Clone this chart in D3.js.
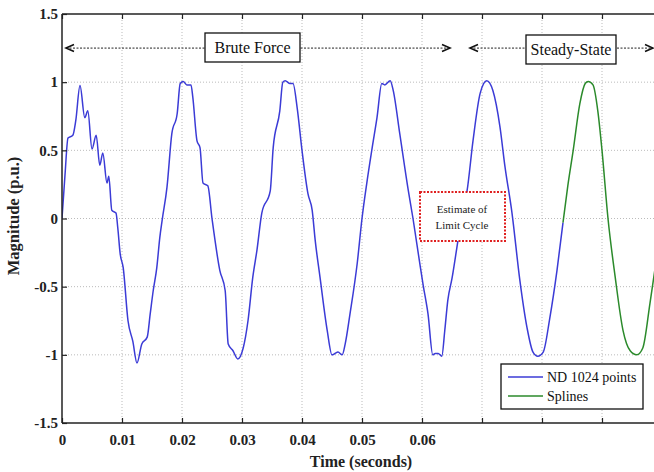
<!DOCTYPE html>
<html>
<head>
<meta charset="utf-8">
<script src="https://cdn.jsdelivr.net/npm/d3@7"></script>
<style>
  body { margin: 0; background: #fff; }
  svg text { font-family: "Liberation Serif", "Times New Roman", serif; }
</style>
</head>
<body>
<svg id="chart" width="654" height="472"></svg>
<script>
// values (time in seconds, magnitude in p.u.)
const bluePts = [
  [0, 0.0], [0.0005, 0.32], [0.001, 0.59], [0.0018, 0.61], [0.0023, 0.72], [0.003, 0.975],
  [0.0038, 0.74], [0.0043, 0.79], [0.005, 0.51], [0.0057, 0.61], [0.0063, 0.39], [0.0068, 0.48],
  [0.0075, 0.26], [0.0078, 0.31], [0.0083, 0.06], [0.009, 0.04], [0.0093, -0.07], [0.0097, -0.26],
  [0.0102, -0.36], [0.011, -0.75], [0.0118, -0.9], [0.0125, -1.06], [0.0133, -0.92], [0.0142, -0.87],
  [0.0147, -0.70], [0.0152, -0.53], [0.0158, -0.36], [0.0163, -0.14], [0.0167, -0.01], [0.0175, 0.23],
  [0.0183, 0.62], [0.0192, 0.77], [0.0197, 0.99], [0.0202, 1.005], [0.0208, 0.98], [0.0215, 0.98],
  [0.0218, 0.89], [0.0225, 0.57], [0.023, 0.52], [0.0235, 0.26], [0.0243, 0.24], [0.025, 0.0],
  [0.0263, -0.38], [0.0272, -0.53], [0.0277, -0.92], [0.0285, -0.97], [0.0293, -1.03], [0.0302, -0.95],
  [0.031, -0.75], [0.0318, -0.43], [0.0325, -0.23], [0.0333, 0.04], [0.0347, 0.2], [0.0352, 0.52],
  [0.0363, 0.79], [0.0368, 1.0], [0.0372, 1.01], [0.038, 0.99], [0.0385, 0.99], [0.0392, 0.81],
  [0.04, 0.5], [0.041, 0.18], [0.0417, 0.06], [0.0422, -0.16], [0.043, -0.43], [0.0442, -0.82],
  [0.045, -1.0], [0.0455, -0.99], [0.046, -0.98], [0.0467, -1.0], [0.0472, -0.92], [0.048, -0.70],
  [0.0492, -0.33], [0.05, 0.0], [0.0508, 0.26], [0.0517, 0.52], [0.0525, 0.74], [0.0533, 0.99],
  [0.0538, 0.98], [0.0547, 1.01], [0.0552, 0.94], [0.0563, 0.62], [0.0577, 0.21], [0.0585, 0.0],
  [0.0597, -0.35], [0.0602, -0.49], [0.061, -0.70], [0.0618, -1.0], [0.0622, -0.99], [0.0627, -0.99],
  [0.0633, -1.01], [0.0638, -0.82], [0.0643, -0.6], [0.065, -0.44], [0.066, -0.16], [0.0668, 0.06],
  [0.0675, 0.2], [0.0685, 0.57], [0.0697, 0.92], [0.0708, 1.01], [0.0718, 0.94], [0.073, 0.67],
  [0.0738, 0.39], [0.075, 0.04], [0.0763, -0.45], [0.0775, -0.8], [0.0785, -0.98], [0.0793, -1.01],
  [0.0802, -0.98], [0.0813, -0.73], [0.0825, -0.38], [0.0835, -0.03]
];
const greenPts = [
  [0.0835, -0.03], [0.0843, 0.24], [0.0852, 0.5], [0.0863, 0.84], [0.0872, 0.99], [0.0877, 1.005],
  [0.0885, 0.98], [0.0893, 0.79], [0.09, 0.5], [0.091, 0.0], [0.0922, -0.43], [0.0935, -0.82],
  [0.0947, -0.97], [0.0958, -1.0], [0.0968, -0.95], [0.098, -0.62], [0.099, -0.32]
];
const xTicks = [0, 0.01, 0.02, 0.03, 0.04, 0.05, 0.06, 0.07, 0.08, 0.09];
const xLabels = ["0", "0.01", "0.02", "0.03", "0.04", "0.05", "0.06", "", "", ""];
const yTicks = [-1.5, -1, -0.5, 0, 0.5, 1, 1.5];
const yLabels = ["-1.5", "-1", "-0.5", "0", "0.5", "1", "1.5"];
const seriesNames = ["ND 1024 points", "Splines"];
const seriesColors = ["#3b3bd6", "#2b8a2b"];

const svg = d3.select("#chart");
const pL = 62, pT = 14, pB = 423, pR = 654;

const x = d3.scaleLinear().domain([0, 0.1]).range([pL, 662]);
const y = d3.scaleLinear().domain([-1.5, 1.5]).range([pB, pT]);

svg.append("defs").append("clipPath").attr("id", "plot")
  .append("rect").attr("x", pL).attr("y", pT).attr("width", pR - pL).attr("height", pB - pT);

// grid
const grid = svg.append("g").attr("stroke", "#aaa").attr("stroke-width", 0.8).attr("stroke-dasharray", "1,2");
grid.selectAll(".gx").data(xTicks.slice(1)).enter().append("line")
  .attr("x1", d => x(d)).attr("x2", d => x(d)).attr("y1", pT).attr("y2", pB);
grid.selectAll(".gy").data(yTicks.slice(1, -1)).enter().append("line")
  .attr("x1", pL).attr("x2", pR).attr("y1", d => y(d)).attr("y2", d => y(d));

// series
const line = d3.line().x(d => x(d[0])).y(d => y(d[1])).curve(d3.curveMonotoneX);
const plot = svg.append("g").attr("clip-path", "url(#plot)");
plot.append("path").datum(bluePts).attr("d", line)
  .attr("fill", "none").attr("stroke", seriesColors[0]).attr("stroke-width", 1.5);
plot.append("path").datum(greenPts).attr("d", line)
  .attr("fill", "none").attr("stroke", seriesColors[1]).attr("stroke-width", 1.5);

// arrows and annotation boxes
const ann = svg.append("g");
function arrow(x1, x2, yy) {
  ann.append("line").attr("x1", x1).attr("x2", x2).attr("y1", yy).attr("y2", yy)
    .attr("stroke", "#222").attr("stroke-width", 1).attr("stroke-dasharray", "2,1.5");
  ann.append("path").attr("d", `M${x1 + 8},${yy - 3.5}L${x1},${yy}L${x1 + 8},${yy + 3.5}`)
    .attr("fill", "none").attr("stroke", "#111").attr("stroke-width", 1.6);
  ann.append("path").attr("d", `M${x2 - 8},${yy - 3.5}L${x2},${yy}L${x2 - 8},${yy + 3.5}`)
    .attr("fill", "none").attr("stroke", "#111").attr("stroke-width", 1.6);
}
const yArrow = y(1.25);
arrow(66, 450, yArrow);
arrow(470, 653, yArrow);

function labelBox(x0, y0, w, h, txt) {
  ann.append("rect").attr("x", x0).attr("y", y0).attr("width", w).attr("height", h)
    .attr("fill", "#fff").attr("stroke", "#111").attr("stroke-width", 1.3);
  ann.append("text").attr("x", x0 + w / 2).attr("y", y0 + h / 2 + 5.5)
    .attr("text-anchor", "middle").attr("font-size", 16).attr("fill", "#111").text(txt);
}
labelBox(205, 33, 95, 29, "Brute Force");
labelBox(526, 35, 90, 29, "Steady-State");

// limit cycle note (sits over the curve)
ann.append("rect").attr("x", 420).attr("y", 192).attr("width", 85).attr("height", 49)
  .attr("fill", "#fff").attr("stroke", "#e02020").attr("stroke-width", 2).attr("stroke-dasharray", "2,1.5");
ann.append("text").attr("x", 462).attr("y", 213).attr("text-anchor", "middle")
  .attr("font-size", 11).attr("fill", "#222").text("Estimate of");
ann.append("text").attr("x", 462).attr("y", 229).attr("text-anchor", "middle")
  .attr("font-size", 11).attr("fill", "#222").text("Limit Cycle");

// axes
const xb = svg.append("g").attr("transform", `translate(0,${pB})`)
  .call(d3.axisBottom(x).tickValues(xTicks).tickSize(-5).tickPadding(11)
    .tickFormat((d, i) => xLabels[i]));
const xt = svg.append("g").attr("transform", `translate(0,${pT})`)
  .call(d3.axisTop(x).tickValues(xTicks).tickSize(-5).tickFormat(""));
const yl = svg.append("g").attr("transform", `translate(${pL},0)`)
  .call(d3.axisLeft(y).tickValues(yTicks).tickSize(-5).tickPadding(4)
    .tickFormat((d, i) => yLabels[i]));
[xb, xt, yl].forEach(g => {
  g.select(".domain").attr("stroke", "#222").attr("stroke-width", 1.5);
  g.selectAll(".tick line").attr("stroke", "#222").attr("stroke-width", 1.2);
  g.selectAll("text").attr("font-family", "Liberation Serif, serif").attr("font-weight", "bold")
    .attr("font-size", 15).attr("fill", "#222");
});
xt.select(".domain").attr("d", `M${pL},0H${pR}`);
xb.select(".domain").attr("d", `M${pL},0H${pR}`);
yl.select(".domain").attr("d", `M0,${pT}V${pB}`);

svg.append("text").attr("x", 361).attr("y", 467).attr("text-anchor", "middle")
  .attr("font-size", 16).attr("font-weight", "bold").attr("fill", "#222").text("Time (seconds)");
svg.append("text").attr("transform", "translate(19,216) rotate(-90)").attr("text-anchor", "middle")
  .attr("font-size", 16.5).attr("font-weight", "bold").attr("fill", "#222").text("Magnitude (p.u.)");

// legend
const lg = svg.append("g");
lg.append("rect").attr("x", 501).attr("y", 364).attr("width", 142).attr("height", 45)
  .attr("fill", "#fff").attr("stroke", "#111").attr("stroke-width", 1.3);
seriesNames.forEach((n, i) => {
  const ly = 377 + i * 19;
  lg.append("line").attr("x1", 508).attr("x2", 543).attr("y1", ly).attr("y2", ly)
    .attr("stroke", seriesColors[i]).attr("stroke-width", 1.5);
  lg.append("text").attr("x", 547).attr("y", ly + 4.5).attr("font-size", 14).attr("fill", "#111").text(n);
});
</script>
</body>
</html>
